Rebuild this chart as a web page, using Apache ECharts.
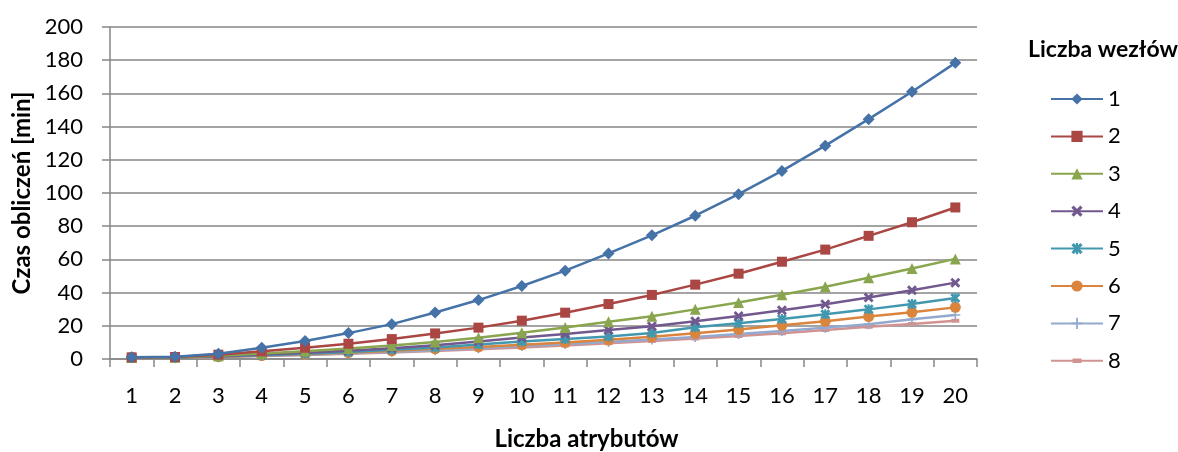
<!DOCTYPE html>
<html>
<head>
<meta charset="utf-8">
<script src="https://cdn.jsdelivr.net/npm/echarts@6/dist/echarts.min.js"></script>
<style>
html,body{margin:0;padding:0;background:#fff;}
#c{width:1178px;height:452px;}
</style>
</head>
<body>
<div id="c"></div>
<script>
var categories = ['1','2','3','4','5','6','7','8','9','10','11','12','13','14','15','16','17','18','19','20'];
var seriesNames = ['1','2','3','4','5','6','7','8'];
var s1 = [1.0, 1.4, 3.2, 6.8, 10.8, 15.6, 21.0, 28.0, 35.5, 44.0, 53.2, 63.6, 74.5, 86.3, 99.3, 113.3, 128.5, 144.5, 161.0, 178.4];
var s2 = [1.0, 1.2, 2.6, 4.6, 6.8, 9.2, 12.0, 15.4, 18.9, 23.1, 27.9, 33.1, 38.6, 44.8, 51.4, 58.6, 65.9, 74.2, 82.4, 91.3];
var s3 = [0.9, 1.1, 2.0, 3.3, 4.7, 6.3, 8.1, 10.3, 12.8, 15.8, 19.0, 22.4, 25.8, 29.9, 34.1, 38.7, 43.5, 49.0, 54.5, 60.3];
var s4 = [0.8, 1.0, 1.7, 2.7, 3.8, 5.0, 6.5, 8.3, 10.5, 13.0, 15.0, 17.5, 19.7, 22.7, 25.9, 29.3, 33.0, 37.0, 41.4, 46.0];
var s5 = [0.8, 0.9, 1.5, 2.3, 3.2, 4.2, 5.5, 7.0, 8.7, 10.5, 12.0, 13.6, 15.6, 19.1, 21.5, 24.1, 26.9, 29.9, 33.1, 36.7];
var s6 = [1.0, 0.9, 1.4, 2.1, 2.9, 3.8, 4.9, 6.1, 7.3, 8.6, 10.0, 11.6, 13.4, 15.5, 17.7, 20.3, 22.7, 25.6, 28.1, 31.1];
var s7 = [0.8, 0.9, 1.3, 1.9, 2.6, 3.4, 4.3, 5.3, 6.5, 7.8, 9.0, 10.3, 11.8, 13.3, 15.0, 16.8, 18.9, 21.0, 23.9, 26.5];
var s8 = [0.8, 0.8, 1.2, 1.8, 2.4, 3.1, 3.9, 4.8, 5.9, 7.0, 8.2, 9.5, 10.9, 12.3, 13.8, 15.5, 17.4, 19.4, 21.1, 23.1];
var yTicks = [0, 20, 40, 60, 80, 100, 120, 140, 160, 180, 200];

var allData = [s1, s2, s3, s4, s5, s6, s7, s8];
var colors = ['#4572A7', '#AA4643', '#89A54E', '#71588F', '#4198AF', '#DB843D', '#93A9CF', '#D19392'];
var X_PATH = 'path://M2,0L5,3L8,0L10,2L7,5L10,8L8,10L5,7L2,10L0,8L3,5L0,2Z';
var STAR_PATH = 'path://M2,0L5,3L8,0L10,2L7,5L10,8L8,10L5,7L2,10L0,8L3,5L0,2Z M4,0L6,0L6,10L4,10Z';
var PLUS_PATH = 'path://M4.2,0L5.8,0L5.8,4.2L10,4.2L10,5.8L5.8,5.8L5.8,10L4.2,10L4.2,5.8L0,5.8L0,4.2L4.2,4.2Z';
var DASH_PATH = 'path://M0,0L0,0Z M1,3L9,3L9,7L1,7Z M10,10L10,10Z';
var symbols = ['diamond', 'rect', 'triangle', X_PATH, STAR_PATH, 'circle', PLUS_PATH, DASH_PATH];
var sizes = [12, 10, 11, 10, 10, 11, 10, 10];

var FONT = 'Lato';
var chart = echarts.init(document.getElementById('c'), null, {renderer: 'canvas'});

var series = allData.map(function (d, i) {
  return {
    name: seriesNames[i],
    type: 'line',
    data: d,
    symbol: symbols[i],
    symbolSize: sizes[i],
    showAllSymbol: true,
    lineStyle: {width: 2.5, color: colors[i]},
    itemStyle: {color: colors[i]},
    emphasis: {disabled: true},
    animation: false,
    z: 10 - i
  };
});

chart.setOption({
  animation: false,
  color: colors,
  textStyle: {fontFamily: FONT},
  grid: {left: 110, right: 201, top: 27, bottom: 93, containLabel: false, outerBoundsMode: 'none'},
  title: {
    text: 'Liczba wezłów',
    left: 1028,
    top: 38,
    padding: 0,
    textStyle: {fontFamily: FONT, fontSize: 23, fontWeight: 'bold', color: '#000'}
  },
  legend: {
    orient: 'vertical',
    left: 1050,
    top: 88,
    itemWidth: 52,
    itemHeight: 14,
    itemGap: 15.4,
    padding: 0,
    data: seriesNames,
    textStyle: {fontFamily: FONT, fontSize: 22, color: '#000'}
  },
  xAxis: {
    type: 'category',
    data: categories,
    boundaryGap: true,
    name: 'Liczba atrybutów',
    nameLocation: 'middle',
    nameGap: 68,
    nameTextStyle: {fontFamily: FONT, fontSize: 24, fontWeight: 'bold', color: '#000', padding: [0, 0, 0, 86]},
    axisLine: {lineStyle: {color: '#868686', width: 1.5}},
    axisTick: {show: true, alignWithLabel: false, length: 8, lineStyle: {color: '#868686', width: 1.5}},
    axisLabel: {fontFamily: FONT, fontSize: 22, color: '#000', margin: 26, interval: 0}
  },
  yAxis: {
    type: 'value',
    min: yTicks[0],
    max: yTicks[yTicks.length - 1],
    interval: yTicks[1] - yTicks[0],
    name: 'Czas obliczeń [min]',
    nameLocation: 'middle',
    nameGap: 75,
    nameTextStyle: {fontFamily: FONT, fontSize: 24, fontWeight: 'bold', color: '#000'},
    axisLine: {show: true, lineStyle: {color: '#868686', width: 1.5}},
    axisTick: {show: true, length: 8, lineStyle: {color: '#868686', width: 1.5}},
    axisLabel: {fontFamily: FONT, fontSize: 22, color: '#000', margin: 27},
    splitLine: {show: true, lineStyle: {color: '#868686', width: 1.5}}
  },
  series: series
});
</script>
</body>
</html>
